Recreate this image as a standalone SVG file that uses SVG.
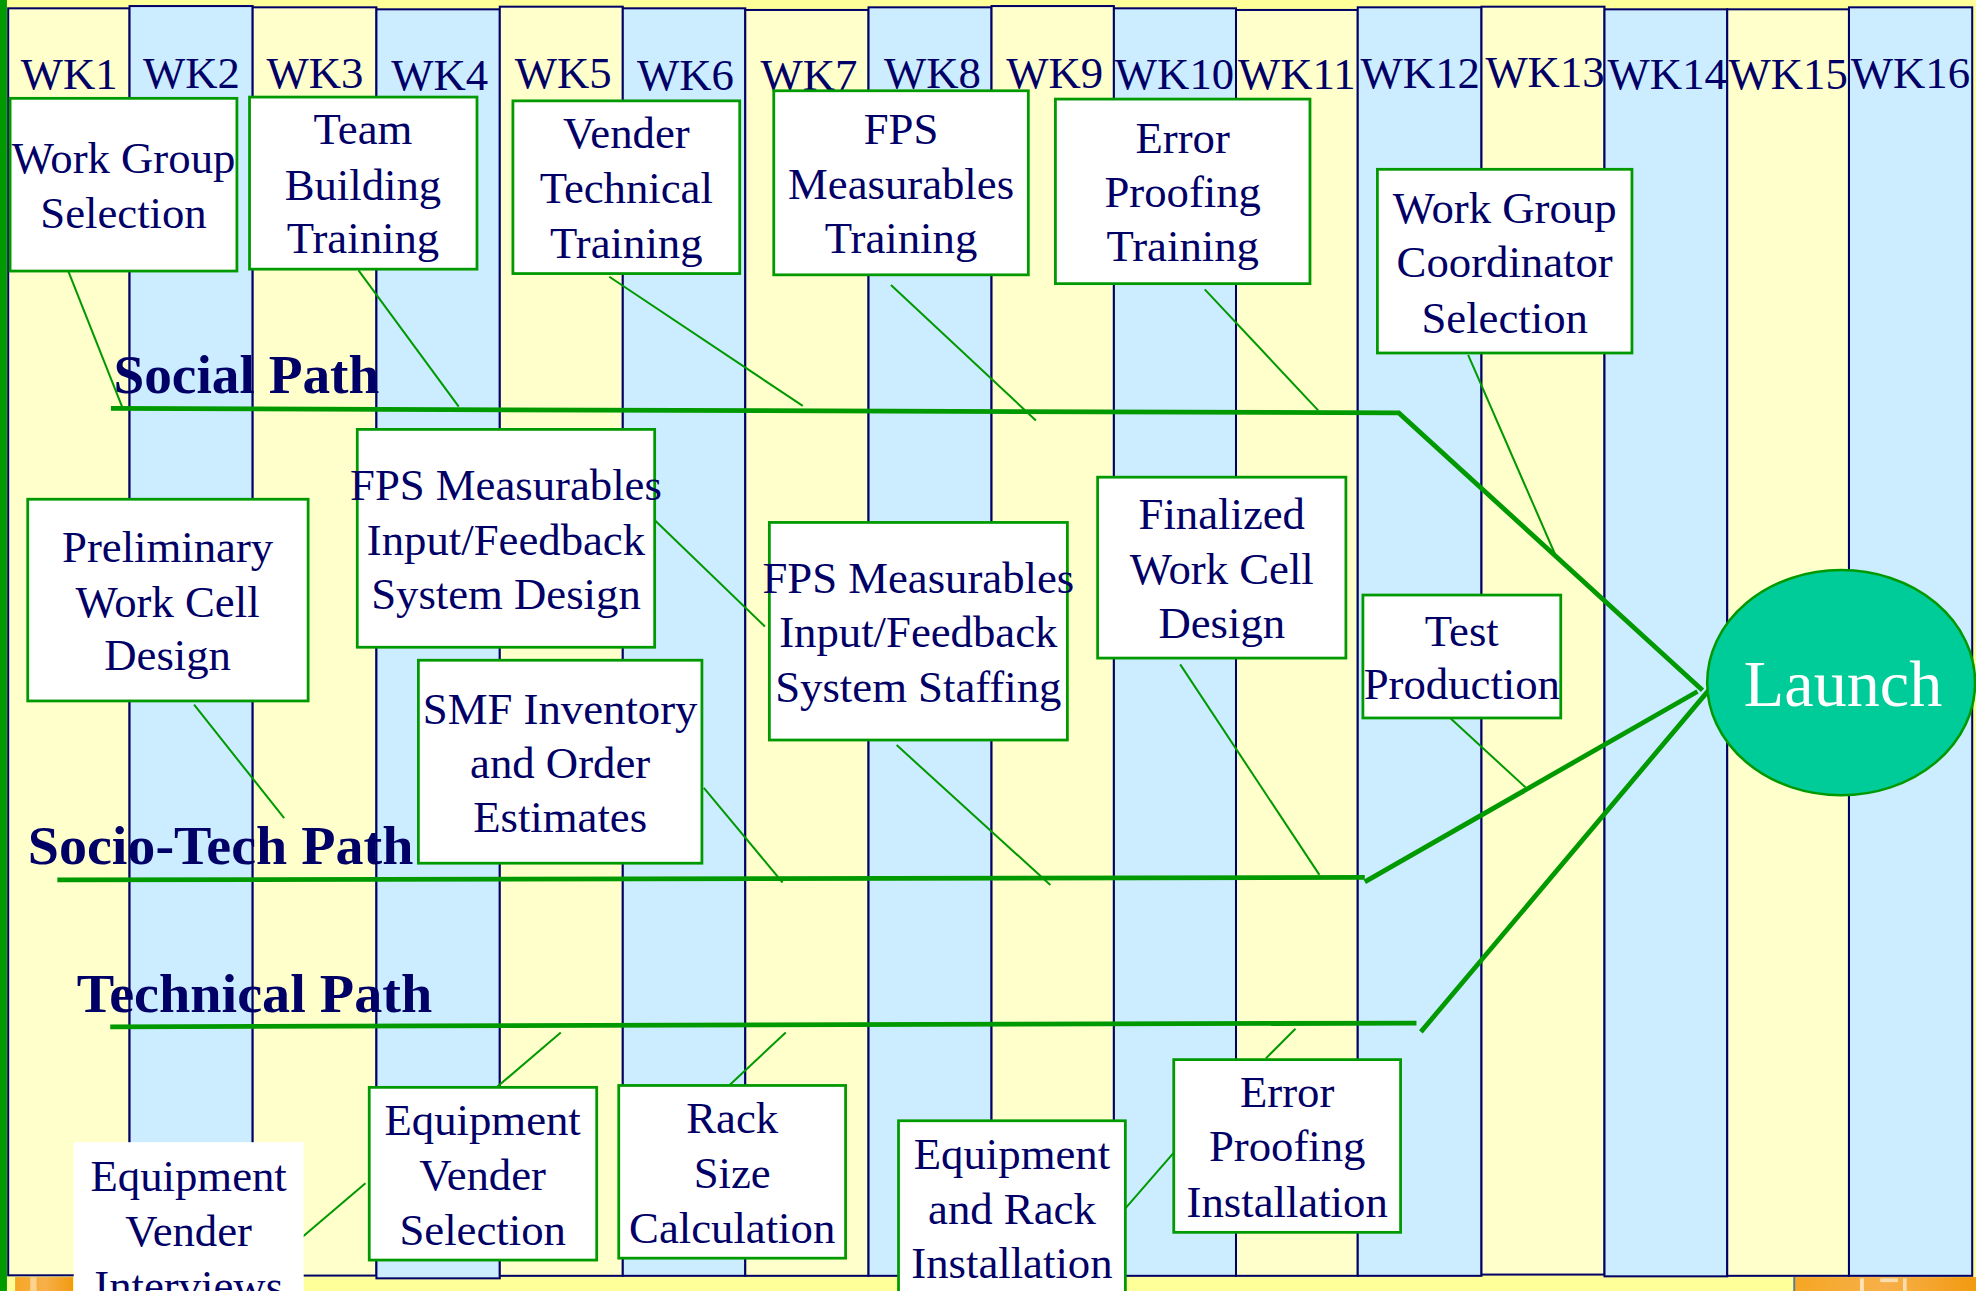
<svg xmlns="http://www.w3.org/2000/svg" width="1976" height="1291" viewBox="0 0 1976 1291">
  <defs>
    <style>
      .cy{fill:#FFFFCC;stroke:#000066;stroke-width:1.6}
      .cb{fill:#CCECFF;stroke:#000066;stroke-width:1.6}
      .wk{font-family:"Liberation Serif","Times New Roman",serif;font-size:35.5px;fill:#000066;text-anchor:middle}
      .node rect{fill:#FFFFFF;stroke:#009900;stroke-width:2.2}
      .node text{font-family:"Liberation Serif","Times New Roman",serif;font-size:35.5px;fill:#000066;text-anchor:middle}
      .plbl{font-family:"Liberation Serif","Times New Roman",serif;font-weight:bold;font-size:44px;fill:#000066}
      .trunk{stroke:#009900;stroke-width:3.8;fill:none;stroke-linejoin:miter}
      .twig{stroke:#009900;stroke-width:1.6;fill:none}
    </style>
    <linearGradient id="logoFill" x1="0" y1="0" x2="1" y2="0">
      <stop offset="0" stop-color="#F5A623"/>
      <stop offset="0.5" stop-color="#F7B04A"/>
      <stop offset="1" stop-color="#F29A10"/>
    </linearGradient>
  </defs>

  <!-- drawing laid out on a 1568 x 1024 grid, scaled up to the full canvas -->
  <g transform="scale(1.2602 1.2607)">
    <!-- page background and frame -->
    <rect x="0" y="0" width="1568" height="1024" fill="#FFFF99"/>
    <rect x="0" y="0" width="5.5" height="1024" fill="#009900"/>
    <rect x="12" y="1013" width="46" height="11" fill="url(#logoFill)"/>
    <rect x="24" y="1013" width="5" height="11" fill="#FFE2B0" opacity="0.7"/>
    <rect x="1424" y="1013" width="144" height="11" fill="url(#logoFill)"/>
    <rect x="1423" y="1013" width="1.5" height="11" fill="#5A7A9A"/>
    <rect x="1476" y="1014" width="3" height="10" fill="#FFF1DA" opacity="0.8"/>
    <rect x="1492" y="1014" width="14" height="3" fill="#FFF1DA" opacity="0.7"/>
    <rect x="1510" y="1014" width="3" height="10" fill="#FFF1DA" opacity="0.7"/>

    <!-- week columns -->
    <g id="weeks">
      <rect class="cy" x="6.5" y="6.6" width="96.3" height="1005"/>
      <rect class="cb" x="102.8" y="4.8" width="97.7" height="1007"/>
      <rect class="cy" x="200.5" y="5.8" width="98.2" height="1006"/>
      <rect class="cb" x="298.7" y="7.4" width="97.9" height="1006.6"/>
      <rect class="cy" x="396.6" y="5.3" width="97.6" height="1006.7"/>
      <rect class="cb" x="494.2" y="6.6" width="97.2" height="1005.4"/>
      <rect class="cy" x="591.4" y="7.9" width="97.8" height="1004.1"/>
      <rect class="cb" x="689.2" y="5.8" width="97.6" height="1006.2"/>
      <rect class="cy" x="786.8" y="4.8" width="97.1" height="1007.2"/>
      <rect class="cb" x="883.9" y="6.6" width="96.9" height="1005.4"/>
      <rect class="cy" x="980.8" y="7.9" width="96.6" height="1004.1"/>
      <rect class="cb" x="1077.4" y="5.8" width="98.2" height="1006.2"/>
      <rect class="cy" x="1175.6" y="5.3" width="97.6" height="1005.7" stroke-width="2.4"/>
      <rect class="cb" x="1273.2" y="7.4" width="97.4" height="1005"/>
      <rect class="cy" x="1370.6" y="7.4" width="96.6" height="1004.6"/>
      <rect class="cb" x="1467.2" y="5.8" width="97.8" height="1006.2"/>

      <text class="wk" x="55" y="70.5">WK1</text>
      <text class="wk" x="152" y="69.5">WK2</text>
      <text class="wk" x="250" y="69.5">WK3</text>
      <text class="wk" x="349" y="71">WK4</text>
      <text class="wk" x="447" y="70">WK5</text>
      <text class="wk" x="544" y="71">WK6</text>
      <text class="wk" x="642" y="71">WK7</text>
      <text class="wk" x="740" y="69.5">WK8</text>
      <text class="wk" x="837" y="69.5">WK9</text>
      <text class="wk" x="932" y="70.5">WK10</text>
      <text class="wk" x="1029" y="70.5">WK11</text>
      <text class="wk" x="1127" y="69.5">WK12</text>
      <text class="wk" x="1226" y="69">WK13</text>
      <text class="wk" x="1323" y="70.5">WK14</text>
      <text class="wk" x="1419" y="70.5">WK15</text>
      <text class="wk" x="1516" y="70">WK16</text>
    </g>

    <!-- path labels -->
    <text class="plbl" x="90" y="312" textLength="211" lengthAdjust="spacingAndGlyphs">Social Path</text>
    <text class="plbl" x="22" y="685.5" textLength="306" lengthAdjust="spacingAndGlyphs">Socio-Tech Path</text>
    <text class="plbl" x="61" y="803" textLength="282" lengthAdjust="spacingAndGlyphs">Technical Path</text>

    <!-- connectors: three path trunks converging on Launch, plus task leaders -->
    <g id="connectors">
      <polyline class="trunk" points="88,324 1110,327.5 1351,547.5"/>
      <polyline class="trunk" points="45.5,698 1083,696"/>
      <line class="trunk" x1="1083" y1="699.5" x2="1347" y2="548.5"/>
      <polyline class="trunk" points="87.5,814.5 1124,811.5"/>
      <line class="trunk" x1="1127.5" y1="818.5" x2="1358" y2="545"/>

      <line class="twig" x1="53" y1="212" x2="97" y2="323"/>
      <line class="twig" x1="284.5" y1="214.5" x2="364" y2="322.5"/>
      <line class="twig" x1="483.5" y1="219.5" x2="637" y2="322"/>
      <line class="twig" x1="707" y1="226" x2="822" y2="333.5"/>
      <line class="twig" x1="956" y1="229.5" x2="1046" y2="325.5"/>
      <line class="twig" x1="1165" y1="281.5" x2="1235" y2="442"/>
      <line class="twig" x1="520" y1="413" x2="607" y2="497"/>
      <line class="twig" x1="154" y1="559" x2="225.5" y2="649"/>
      <line class="twig" x1="558.5" y1="625" x2="621" y2="700"/>
      <line class="twig" x1="711.5" y1="591" x2="833.5" y2="702"/>
      <line class="twig" x1="936.5" y1="527" x2="1047" y2="694"/>
      <line class="twig" x1="1149" y1="568" x2="1210.5" y2="624.5"/>
      <line class="twig" x1="394" y1="862.5" x2="445" y2="819"/>
      <line class="twig" x1="577.5" y1="862" x2="623.5" y2="819"/>
      <line class="twig" x1="1004.5" y1="839.5" x2="1028" y2="816"/>
      <line class="twig" x1="239" y1="982" x2="290" y2="938.5"/>
      <line class="twig" x1="893" y1="958.5" x2="933" y2="912.5"/>
    </g>

    <!-- social path tasks -->
    <g id="work-group-selection" class="node">
      <rect x="8" y="78" width="180" height="137"/>
      <text x="98"><tspan x="98" y="137.5">Work Group</tspan><tspan x="98" y="180.7">Selection</tspan></text>
    </g>
    <g id="team-building-training" class="node">
      <rect x="198" y="77" width="180.5" height="136.5"/>
      <text x="288"><tspan x="288" y="114.3">Team</tspan><tspan x="288" y="158.7">Building</tspan><tspan x="288" y="201">Training</tspan></text>
    </g>
    <g id="vender-technical-training" class="node">
      <rect x="407" y="80" width="180" height="137"/>
      <text x="497"><tspan x="497" y="117.7">Vender</tspan><tspan x="497" y="161">Technical</tspan><tspan x="497" y="205">Training</tspan></text>
    </g>
    <g id="fps-measurables-training" class="node">
      <rect x="614" y="72" width="202" height="146"/>
      <text x="715"><tspan x="715" y="114.3">FPS</tspan><tspan x="715" y="158">Measurables</tspan><tspan x="715" y="201">Training</tspan></text>
    </g>
    <g id="error-proofing-training" class="node">
      <rect x="837.5" y="78.6" width="202" height="146.4"/>
      <text x="938.5"><tspan x="938.5" y="121">Error</tspan><tspan x="938.5" y="164">Proofing</tspan><tspan x="938.5" y="207">Training</tspan></text>
    </g>
    <g id="work-group-coordinator-selection" class="node">
      <rect x="1093" y="134.3" width="202" height="145.7"/>
      <text x="1194"><tspan x="1194" y="176.7">Work Group</tspan><tspan x="1194" y="220">Coordinator</tspan><tspan x="1194" y="264">Selection</tspan></text>
    </g>

    <!-- socio-technical path tasks -->
    <g id="preliminary-work-cell-design" class="node">
      <rect x="22" y="396" width="222.5" height="160"/>
      <text x="133"><tspan x="133" y="446">Preliminary</tspan><tspan x="133" y="489.5">Work Cell</tspan><tspan x="133" y="531.7">Design</tspan></text>
    </g>
    <g id="fps-feedback-system-design" class="node">
      <rect x="283.5" y="340.6" width="236" height="172.8"/>
      <text x="401.5"><tspan x="401.5" y="396.8">FPS Measurables</tspan><tspan x="401.5" y="440.4">Input/Feedback</tspan><tspan x="401.5" y="482.7">System Design</tspan></text>
    </g>
    <g id="smf-inventory-estimates" class="node">
      <rect x="332" y="523.7" width="225" height="161"/>
      <text x="444.5"><tspan x="444.5" y="574">SMF Inventory</tspan><tspan x="444.5" y="617">and Order</tspan><tspan x="444.5" y="660">Estimates</tspan></text>
    </g>
    <g id="fps-feedback-system-staffing" class="node">
      <rect x="610.5" y="414.4" width="236.5" height="172.6"/>
      <text x="728.7"><tspan x="728.7" y="470.7">FPS Measurables</tspan><tspan x="728.7" y="513.4">Input/Feedback</tspan><tspan x="728.7" y="557">System Staffing</tspan></text>
    </g>
    <g id="finalized-work-cell-design" class="node">
      <rect x="871" y="378.5" width="197" height="143.5"/>
      <text x="969.5"><tspan x="969.5" y="420">Finalized</tspan><tspan x="969.5" y="463">Work Cell</tspan><tspan x="969.5" y="506">Design</tspan></text>
    </g>
    <g id="test-production" class="node">
      <rect x="1081.5" y="472" width="157" height="97.5"/>
      <text x="1160"><tspan x="1160" y="512.6">Test</tspan><tspan x="1160" y="554.6">Production</tspan></text>
    </g>

    <!-- technical path tasks -->
    <g id="equipment-vender-interviews" class="node">
      <rect x="58.5" y="906" width="182.5" height="120" style="stroke:none"/>
      <text x="149.7"><tspan x="149.7" y="944.8">Equipment</tspan><tspan x="149.7" y="988">Vender</tspan><tspan x="149.7" y="1031.6">Interviews</tspan></text>
    </g>
    <g id="equipment-vender-selection" class="node">
      <rect x="293" y="862.5" width="180.5" height="137"/>
      <text x="383"><tspan x="383" y="900.6">Equipment</tspan><tspan x="383" y="944">Vender</tspan><tspan x="383" y="987.8">Selection</tspan></text>
    </g>
    <g id="rack-size-calculation" class="node">
      <rect x="491" y="861" width="180" height="137"/>
      <text x="581"><tspan x="581" y="899">Rack</tspan><tspan x="581" y="942.7">Size</tspan><tspan x="581" y="986">Calculation</tspan></text>
    </g>
    <g id="equipment-rack-installation" class="node">
      <rect x="713" y="889" width="180" height="140"/>
      <text x="803"><tspan x="803" y="927">Equipment</tspan><tspan x="803" y="970.5">and Rack</tspan><tspan x="803" y="1014">Installation</tspan></text>
    </g>
    <g id="error-proofing-installation" class="node">
      <rect x="931.4" y="840.5" width="180" height="137"/>
      <text x="1021.4"><tspan x="1021.4" y="878">Error</tspan><tspan x="1021.4" y="921">Proofing</tspan><tspan x="1021.4" y="965">Installation</tspan></text>
    </g>

    <!-- goal -->
    <g id="launch">
      <ellipse cx="1461" cy="541.5" rx="106.3" ry="89.3" fill="#00CC99" stroke="#009900" stroke-width="2"/>
      <text x="1462.5" y="560.2" font-family="'Liberation Serif','Times New Roman',serif" font-size="52.5" fill="#FFFFFF" text-anchor="middle">Launch</text>
    </g>
  </g>
</svg>
